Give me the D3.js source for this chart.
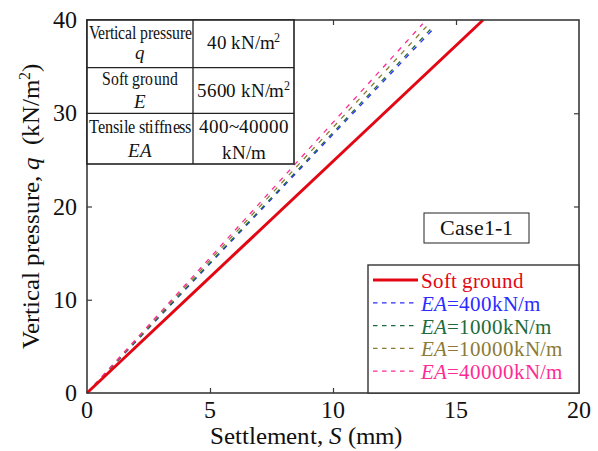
<!DOCTYPE html>
<html>
<head>
<meta charset="utf-8">
<script src="https://cdn.jsdelivr.net/npm/d3@7"></script>
<style>
  @font-face { font-family: "ChartSerif"; font-style: normal; font-weight: 400;
    src: local("Liberation Serif"), local("LiberationSerif"), local("Liberation Serif Regular"), local("Tinos"); }
  @font-face { font-family: "ChartSerif"; font-style: italic; font-weight: 400;
    src: local("Liberation Serif Italic"), local("LiberationSerif-Italic"), local("Tinos Italic"); }
  body { margin: 0; background: #fff; }
</style>
</head>
<body>
<svg id="chart" width="598" height="451"></svg>
<script>
// ---- data ----
const xTicks = [0, 5, 10, 15, 20];
const yTicks = [0, 10, 20, 30, 40];

const seriesNames = ["Soft ground", "EA=400kN/m", "EA=1000kN/m", "EA=10000kN/m", "EA=40000kN/m"];
const seriesEA = [null, "400", "1000", "10000", "40000"];

// settlement S (mm) and vertical pressure q (kN/m2)
const softSettlement = [0, 16.1];
const softPressure = [0, 40];
const ea400Settlement = [0, 14.1];
const ea400Pressure = [0, 39.1];
const ea1000Settlement = [0, 14.0];
const ea1000Pressure = [0, 39.1];
const ea10000Settlement = [0, 13.8];
const ea10000Pressure = [0, 39.3];
const ea40000Settlement = [0, 13.65];
const ea40000Pressure = [0, 39.6];

const tableLabels = ["Vertical pressure", "Soft ground", "Tensile stiffness"];
const tableSymbols = ["q", "E", "EA"];
const tableValues = ["40 kN/m", "5600 kN/m", "400~40000"];
const tableUnits = ["2", "2", "kN/m"];

// ---- styling ----
const FONT = "ChartSerif, \"Liberation Serif\"";
const colors = ["#e30613", "#2b2bff", "#1d6b3a", "#8c7b35", "#ff2b95"];

const svg = d3.select("#chart");
const margin = { left: 87, top: 20, right: 19, bottom: 58 };
const W = 598, H = 451;
const x = d3.scaleLinear().domain([0, 20]).range([margin.left, W - margin.right]);
const y = d3.scaleLinear().domain([0, 40]).range([H - margin.bottom, margin.top]);

function label(parent, px, py, size, anchor) {
  return parent.append("text")
    .attr("x", px).attr("y", py)
    .attr("font-size", size)
    .style("font-family", FONT)
    .attr("text-anchor", anchor || "start")
    .attr("fill", "#111");
}

const series = [
  { s: softSettlement, q: softPressure },
  { s: ea400Settlement, q: ea400Pressure },
  { s: ea1000Settlement, q: ea1000Pressure },
  { s: ea10000Settlement, q: ea10000Pressure },
  { s: ea40000Settlement, q: ea40000Pressure }
].map((d, i) => ({ i, pts: d.s.map((v, k) => [v, d.q[k]]) }));

// inward tick marks on all four sides
const axisColor = "#3a3a3a";
const axes = [
  svg.append("g").attr("transform", `translate(0,${y(0)})`)
    .call(d3.axisBottom(x).tickValues([5, 10, 15]).tickSize(-5).tickFormat("")),
  svg.append("g").attr("transform", `translate(0,${y(40)})`)
    .call(d3.axisTop(x).tickValues([5, 10, 15]).tickSize(-5).tickFormat("")),
  svg.append("g").attr("transform", `translate(${x(0)},0)`)
    .call(d3.axisLeft(y).tickValues([10, 20]).tickSize(-5).tickFormat("")),
  svg.append("g").attr("transform", `translate(${x(20)},0)`)
    .call(d3.axisRight(y).tickValues([10, 20, 30]).tickSize(-5).tickFormat(""))
];
axes.forEach(g => {
  g.select(".domain").remove();
  g.selectAll(".tick text").remove();
  g.selectAll(".tick line").attr("stroke", axisColor).attr("stroke-width", 1.2);
});

// tick labels
xTicks.forEach(v => label(svg, x(v), 418, 24, "middle").text(v));
yTicks.forEach(v => label(svg, 77, y(v) + 8, 24, "end").text(v));

// lines
const line = d3.line().x(d => x(d[0])).y(d => y(d[1]));
series.slice(1).forEach(d => {
  svg.append("path").datum(d.pts).attr("d", line)
    .attr("fill", "none").attr("stroke", colors[d.i]).attr("stroke-width", 1.3)
    .attr("stroke-dasharray", "5,6");
});
svg.append("path").datum(series[0].pts).attr("d", line)
  .attr("fill", "none").attr("stroke", colors[0]).attr("stroke-width", 3);

// plot frame
svg.append("rect").attr("x", x(0)).attr("y", y(40))
  .attr("width", x(20) - x(0)).attr("height", y(0) - y(40))
  .attr("fill", "none").attr("stroke", axisColor).attr("stroke-width", 1.6);

// parameter table
const tx0 = x(0), tx1 = 193, tx2 = 294;
const rowY = [y(40), 67.7, 113.3, 164];
const tbl = svg.append("g");
tbl.append("rect").attr("x", tx0).attr("y", rowY[0]).attr("width", tx2 - tx0).attr("height", rowY[3] - rowY[0])
  .attr("fill", "#fff").attr("stroke", "#222").attr("stroke-width", 1.6);
tbl.append("line").attr("x1", tx1).attr("x2", tx1).attr("y1", rowY[0]).attr("y2", rowY[3])
  .attr("stroke", "#222").attr("stroke-width", 1.3);
[rowY[1], rowY[2]].forEach(v => tbl.append("line").attr("x1", tx0).attr("x2", tx2).attr("y1", v).attr("y2", v)
  .attr("stroke", "#222").attr("stroke-width", 1.3));

const c1 = (tx0 + tx1) / 2, c2 = (tx1 + tx2) / 2;
const labelBase = [39.3, 85, 133.3];
const labelWidth = [103, 77, 103];
const symbolBase = [58.5, 108, 156.5];
tableLabels.forEach((lab, i) => {
  label(tbl, c1, labelBase[i], 19, "middle")
    .attr("textLength", labelWidth[i]).attr("lengthAdjust", "spacingAndGlyphs")
    .text(lab);
  label(tbl, c1, symbolBase[i], 19, "middle").attr("font-style", "italic").text(tableSymbols[i]);
});
const valueBase = [49.3, 96.7, 133.3];
tableValues.forEach((v, i) => {
  if (i < 2) {
    const t = label(tbl, c2, valueBase[i], 19, "middle").attr("letter-spacing", -0.2);
    t.append("tspan").text(v);
    t.append("tspan").attr("dy", -7).attr("font-size", 12).text(tableUnits[i]);
  } else {
    label(tbl, c2, valueBase[i], 19, "middle").text(v);
    label(tbl, c2, 159.3, 19, "middle").text(tableUnits[i]);
  }
});

// case label
svg.append("rect").attr("x", 424).attr("y", 213).attr("width", 105).attr("height", 30)
  .attr("fill", "#fff").attr("stroke", "#222").attr("stroke-width", 1);
label(svg, 476.5, 235, 22, "middle").text("Case1-1");

// legend
const lg = svg.append("g");
lg.append("rect").attr("x", 368).attr("y", 265).attr("width", x(20) - 368).attr("height", y(0) - 265)
  .attr("fill", "#fff").attr("stroke", "#333").attr("stroke-width", 1.4);
seriesNames.forEach((name, i) => {
  const cy = 280 + i * 22.8;
  lg.append("line").attr("x1", 373).attr("x2", 418).attr("y1", cy).attr("y2", cy)
    .attr("stroke", colors[i]).attr("stroke-width", i === 0 ? 3 : 1.3)
    .attr("stroke-dasharray", i === 0 ? null : "4.5,4.5");
  const t = label(lg, 421, cy + 8, 21, "start").attr("fill", colors[i]);
  if (i === 0) {
    t.text(name);
  } else {
    t.append("tspan").attr("font-style", "italic").text("EA");
    t.append("tspan").text("=" + seriesEA[i] + "kN/m");
  }
});

// axis titles
const xt = label(svg, 306, 443.5, 25, "middle");
xt.append("tspan").text("Settlement, ");
xt.append("tspan").attr("font-style", "italic").text("S");
xt.append("tspan").text(" (mm)");

const yt = label(svg, 0, 0, 25, "middle")
  .attr("transform", `translate(38.5,${(y(0) + y(40)) / 2}) rotate(-90)`);
yt.append("tspan").text("Vertical pressure, ");
yt.append("tspan").attr("font-style", "italic").text("q");
yt.append("tspan").text("\u00a0 (kN/m");
yt.append("tspan").attr("dy", -9).attr("font-size", 16).text("2");
yt.append("tspan").attr("dy", 9).text(")");
</script>
</body>
</html>
